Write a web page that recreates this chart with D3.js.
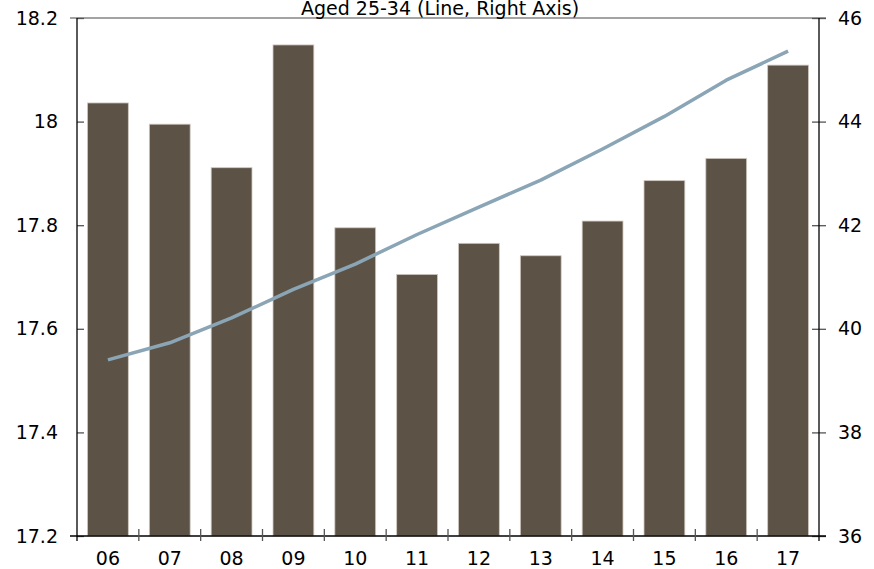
<!DOCTYPE html>
<html>
<head>
<meta charset="utf-8">
<script src="https://cdn.jsdelivr.net/npm/d3@7"></script>
<style>
  html, body { margin: 0; padding: 0; background: #fff; }
  svg { display: block; }
  svg text { font-family: "DejaVu Sans", Verdana, sans-serif; }
</style>
</head>
<body>
<svg id="chart" width="874" height="569"></svg>
<script>
// Years (two-digit labels)
const years = ["06", "07", "08", "09", "10", "11", "12", "13", "14", "15", "16", "17"];
// Bars, left axis
const barValues = [18.036, 17.995, 17.911, 18.148, 17.795, 17.705, 17.765, 17.741, 17.808, 17.886, 17.929, 18.109];
// Aged 25-34, line, right axis
const lineValues = [39.40, 39.73, 40.21, 40.76, 41.25, 41.82, 42.35, 42.87, 43.47, 44.10, 44.80, 45.36];
const leftTicks = [17.2, 17.4, 17.6, 17.8, 18.0, 18.2];
const rightTicks = [36, 38, 40, 42, 44, 46];
const titleText = "Aged 25-34 (Line, Right Axis)";

const plotLeft = 77, plotRight = 819, plotTop = 18, plotBottom = 536;
const svg = d3.select("#chart");
const FONT = "'DejaVu Sans', Verdana, sans-serif";

const x = d3.scaleBand().domain(years).range([plotLeft, plotRight])
  .paddingInner(0.34).paddingOuter(0.17);
const yL = d3.scaleLinear().domain([17.2, 18.2]).range([plotBottom, plotTop]);
const yR = d3.scaleLinear().domain([36, 46]).range([plotBottom, plotTop]);

// top frame line
svg.append("line")
  .attr("x1", plotLeft - 7).attr("x2", plotRight + 7)
  .attr("y1", plotTop).attr("y2", plotTop)
  .attr("stroke", "#858585").attr("stroke-width", 1.5);

// bars
svg.append("g").selectAll("rect").data(years).join("rect")
  .attr("x", d => x(d))
  .attr("width", x.bandwidth())
  .attr("y", (d, i) => yL(barValues[i]))
  .attr("height", (d, i) => plotBottom - yL(barValues[i]))
  .attr("fill", "#5d5246")
  .attr("stroke", "#cfc8c0")
  .attr("stroke-width", 0.8);

// line series
const line = d3.line()
  .x((d, i) => x(years[i]) + x.bandwidth() / 2)
  .y(d => yR(d));
svg.append("path").datum(lineValues)
  .attr("d", line)
  .attr("fill", "none")
  .attr("stroke", "#8aa5b5")
  .attr("stroke-width", 3.5)
  .attr("stroke-linejoin", "round");

const fontSize = 19;

// left axis
const gL = svg.append("g").attr("transform", `translate(${plotLeft},0)`)
  .call(d3.axisLeft(yL).tickValues(leftTicks).tickSizeInner(7).tickSizeOuter(0)
    .tickFormat(d3.format("")).tickPadding(12));
gL.select(".domain").remove();
gL.selectAll(".tick line").attr("x2", 7).attr("stroke", "#555").attr("stroke-width", 1.3);
gL.selectAll(".tick text").attr("font-size", fontSize).attr("fill", "#000")
  .attr("font-family", FONT);
svg.append("line").attr("x1", plotLeft).attr("x2", plotLeft).attr("y1", plotTop).attr("y2", plotBottom + 5)
  .attr("stroke", "#000").attr("stroke-width", 1.3);

// right axis
const gR = svg.append("g").attr("transform", `translate(${plotRight},0)`)
  .call(d3.axisRight(yR).tickValues(rightTicks).tickSizeInner(7).tickSizeOuter(0)
    .tickPadding(12));
gR.select(".domain").remove();
gR.selectAll(".tick line").attr("x1", -7).attr("stroke", "#555").attr("stroke-width", 1.3);
gR.selectAll(".tick text").attr("font-size", fontSize).attr("fill", "#000")
  .attr("font-family", FONT);
svg.append("line").attr("x1", plotRight).attr("x2", plotRight).attr("y1", plotTop).attr("y2", plotBottom + 5)
  .attr("stroke", "#000").attr("stroke-width", 1.3);

// bottom axis: ticks at category boundaries, labels centred under bars
svg.append("line").attr("x1", plotLeft - 7).attr("x2", plotRight + 7)
  .attr("y1", plotBottom).attr("y2", plotBottom)
  .attr("stroke", "#000").attr("stroke-width", 1.3);
const bounds = years.slice(1).map(d => x(d) - x.step() * x.paddingInner() / 2);
svg.append("g").selectAll("line").data(bounds).join("line")
  .attr("x1", d => d).attr("x2", d => d)
  .attr("y1", plotBottom - 7).attr("y2", plotBottom + 5)
  .attr("stroke", "#555").attr("stroke-width", 1.3);
svg.append("g").selectAll("text").data(years).join("text")
  .attr("x", d => x(d) + x.bandwidth() / 2)
  .attr("y", 564.5)
  .attr("text-anchor", "middle")
  .attr("font-family", FONT)
  .attr("font-size", fontSize)
  .attr("fill", "#000")
  .text(d => d);

// series title
svg.append("text")
  .attr("x", 440).attr("y", 15)
  .attr("text-anchor", "middle")
  .attr("font-family", FONT)
  .attr("font-size", 19)
  .attr("fill", "#000")
  .text(titleText);
</script>
</body>
</html>
